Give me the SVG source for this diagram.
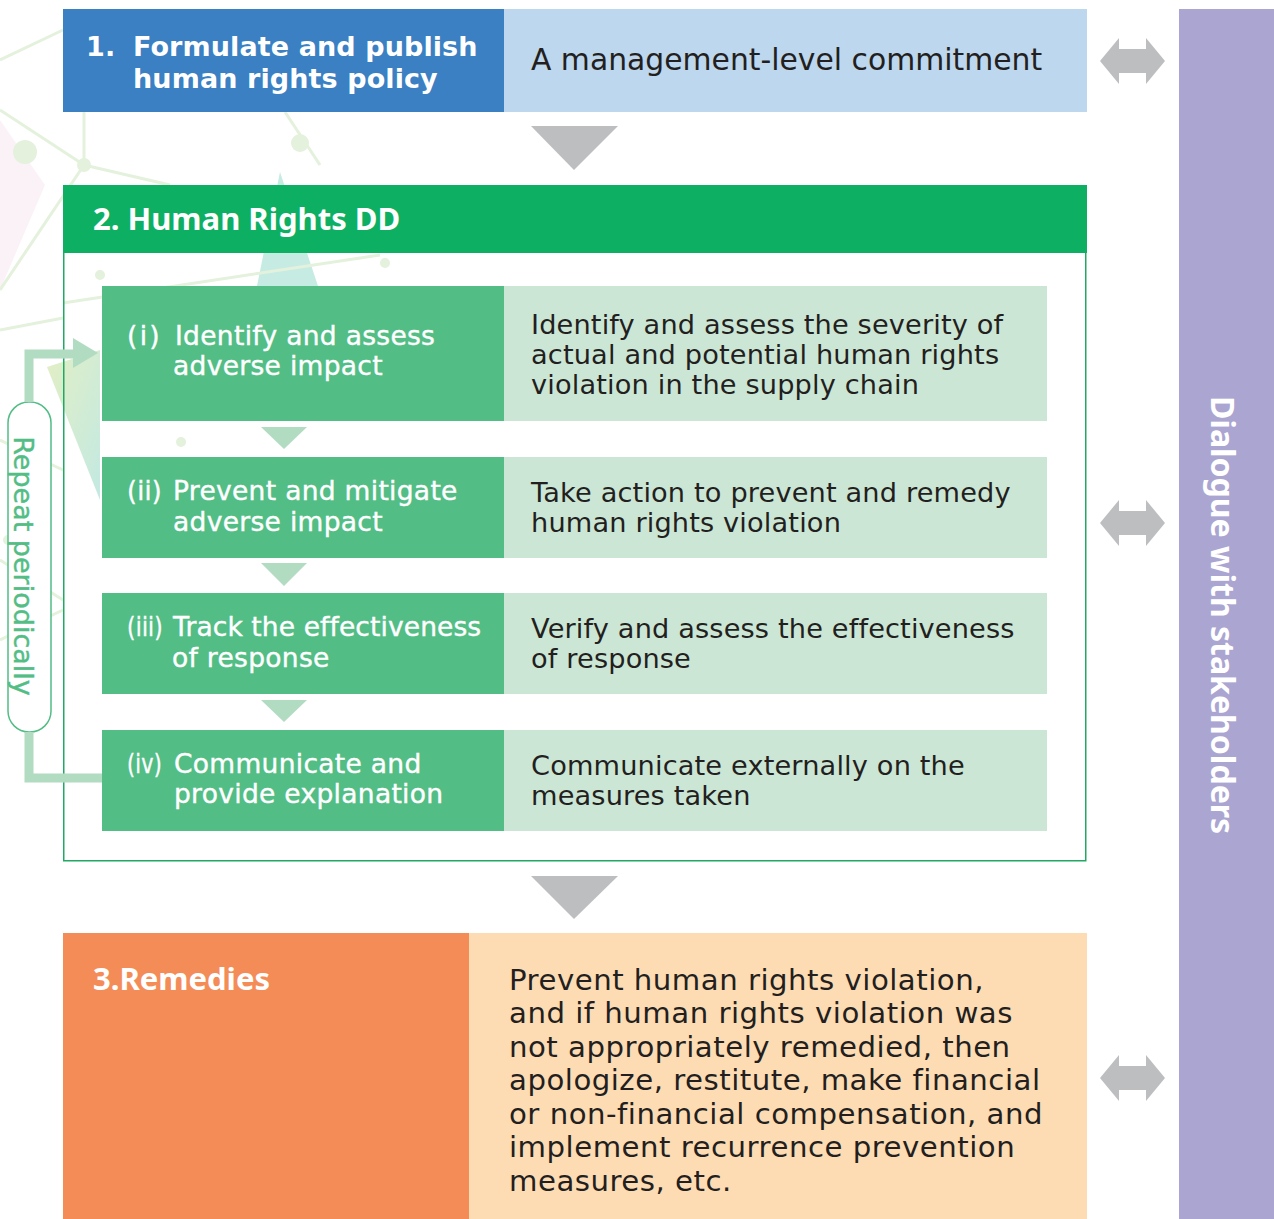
<svg xmlns="http://www.w3.org/2000/svg" width="1274" height="1219" viewBox="0 0 1274 1219">
<style>
  text { font-family: "DejaVu Sans", "Noto Sans", sans-serif; }
  .hb { font-family: "Noto Sans", "Open Sans", sans-serif; font-weight: 700; fill: #ffffff; }
  .h1 { font-family: "DejaVu Sans", sans-serif; font-weight: 700; fill: #ffffff; font-size: 27px; letter-spacing: 0.1px; }
  .lbl { fill: #ffffff; font-size: 26.5px; stroke: #ffffff; stroke-width: 0.4; letter-spacing: 0.3px; }
  .d { fill: #231f20; }
  .tr { font-size: 27.2px; letter-spacing: 0.15px; }
  .bg { stroke: #e4f1dc; stroke-width: 3; fill: none; }
  .dot { fill: #e4f1dc; }
  .tri { fill: #bcbec0; }
  .stri { fill: #b2dcc1; }
  .dbl { fill: #bcbec0; }
</style>
<defs>
  <linearGradient id="gtri" x1="0" y1="0" x2="1" y2="1">
    <stop offset="0" stop-color="#e2efc4"/>
    <stop offset="1" stop-color="#c3e9e2"/>
  </linearGradient>
  <path id="dblArrow" d="M0 0 L19 -23 L19 -12 L46 -12 L46 -23 L65 0 L46 23 L46 12 L19 12 L19 23 Z"/>
</defs>
<rect width="1274" height="1219" fill="#ffffff"/>

<g id="background">
  <polygon points="0,120 45,185 0,290" fill="#fbf2f7"/>
  <polygon points="280,172 257,286 318,286" fill="#c5ebe3"/>
  <polygon points="47,367 100,350 100,500" fill="url(#gtri)"/>
  <line class="bg" x1="0" y1="60" x2="63" y2="30"/>
  <line class="bg" x1="0" y1="110" x2="84" y2="165"/>
  <line class="bg" x1="84" y1="112" x2="84" y2="165"/>
  <line class="bg" x1="84" y1="165" x2="170" y2="185"/>
  <line class="bg" x1="84" y1="165" x2="0" y2="290"/>
  <line class="bg" x1="285" y1="112" x2="320" y2="165"/>
  <line class="bg" x1="0" y1="330" x2="63" y2="318"/>
  <line class="bg" x1="63" y1="303" x2="380" y2="255"/>
  <line class="bg" x1="0" y1="440" x2="63" y2="470"/>
  <line class="bg" x1="0" y1="560" x2="63" y2="600"/>
  <line class="bg" x1="0" y1="640" x2="63" y2="610"/>
  <circle class="dot" cx="25" cy="152" r="12"/>
  <circle class="dot" cx="84" cy="165" r="7"/>
  <circle class="dot" cx="300" cy="143" r="9"/>
  <circle class="dot" cx="100" cy="275" r="5"/>
  <circle class="dot" cx="385" cy="263" r="5"/>
  <circle class="dot" cx="181" cy="442" r="5"/>
  <circle class="dot" cx="8" cy="540" r="5"/>
</g>

<g id="stakeholders">
  <rect x="1179" y="9" width="95" height="1210" fill="#aba5d1"/>
  <text class="hb" font-size="32" transform="translate(1211,615) rotate(90)" text-anchor="middle">Dialogue with stakeholders</text>
</g>

<g id="step1">
  <rect x="63" y="9" width="441" height="103" fill="#3a80c3"/>
  <rect x="504" y="9" width="583" height="103" fill="#bdd7ee"/>
  <text class="h1"><tspan x="86" y="56">1.</tspan><tspan x="133" y="56">Formulate and publish</tspan><tspan x="133" y="88">human rights policy</tspan></text>
  <text class="d" font-size="29.8" x="531" y="70">A management-level commitment</text>
</g>

<g id="step2">
  <rect x="63.75" y="185.75" width="1022" height="675" fill="none" stroke="#21a865" stroke-width="1.5"/>
  <rect x="63" y="185" width="1024" height="68" fill="#0daf63"/>
  <text class="hb" font-size="31" x="93" y="230">2. Human Rights DD</text>
</g>

<g id="step2-i">
  <rect x="102" y="286" width="402" height="135" fill="#52bd85"/>
  <rect x="504" y="286" width="543" height="135" fill="#cce6d5"/>
  <text class="lbl"><tspan x="127" y="345" textLength="33" lengthAdjust="spacing">(i)</tspan><tspan x="175" y="345">Identify and assess</tspan><tspan x="173" y="375">adverse impact</tspan></text>
  <text class="d tr"><tspan x="531" y="334">Identify and assess the severity of</tspan><tspan x="531" y="364">actual and potential human rights</tspan><tspan x="531" y="394">violation in the supply chain</tspan></text>
</g>

<g id="step2-ii">
  <rect x="102" y="457" width="402" height="101" fill="#52bd85"/>
  <rect x="504" y="457" width="543" height="101" fill="#cce6d5"/>
  <text class="lbl"><tspan x="127" y="500" textLength="35" lengthAdjust="spacingAndGlyphs">(ii)</tspan><tspan x="173" y="500">Prevent and mitigate</tspan><tspan x="173" y="531">adverse impact</tspan></text>
  <text class="d tr"><tspan x="531" y="502">Take action to prevent and remedy</tspan><tspan x="531" y="532">human rights violation</tspan></text>
</g>

<g id="step2-iii">
  <rect x="102" y="593" width="402" height="101" fill="#52bd85"/>
  <rect x="504" y="593" width="543" height="101" fill="#cce6d5"/>
  <text class="lbl"><tspan x="127" y="636" textLength="36" lengthAdjust="spacingAndGlyphs">(iii)</tspan><tspan x="173" y="636" letter-spacing="0.1">Track the effectiveness</tspan><tspan x="172" y="667">of response</tspan></text>
  <text class="d tr"><tspan x="531" y="638">Verify and assess the effectiveness</tspan><tspan x="531" y="668">of response</tspan></text>
</g>

<g id="step2-iv">
  <rect x="102" y="730" width="402" height="101" fill="#52bd85"/>
  <rect x="504" y="730" width="543" height="101" fill="#cce6d5"/>
  <text class="lbl"><tspan x="127" y="773" textLength="35" lengthAdjust="spacingAndGlyphs">(iv)</tspan><tspan x="174" y="773">Communicate and</tspan><tspan x="174" y="803">provide explanation</tspan></text>
  <text class="d tr"><tspan x="531" y="775">Communicate externally on the</tspan><tspan x="531" y="805">measures taken</tspan></text>
</g>

<g id="step3">
  <rect x="63" y="933" width="406" height="286" fill="#f48c58"/>
  <rect x="469" y="933" width="618" height="286" fill="#fddcb4"/>
  <text class="hb" font-size="31" x="93" y="990">3.Remedies</text>
  <text class="d" font-size="29.2" letter-spacing="0.5"><tspan x="509" y="990">Prevent human rights violation,</tspan><tspan x="509" y="1023">and if human rights violation was</tspan><tspan x="509" y="1057">not appropriately remedied, then</tspan><tspan x="509" y="1090">apologize, restitute, make financial</tspan><tspan x="509" y="1124">or non-financial compensation, and</tspan><tspan x="509" y="1157">implement recurrence prevention</tspan><tspan x="509" y="1191">measures, etc.</tspan></text>
</g>

<g id="repeat">
  <rect x="8" y="402" width="43" height="330" rx="21" fill="#ffffff" stroke="#52bd85" stroke-width="1.5"/>
  <text font-size="27" fill="#52bd85" stroke="#52bd85" stroke-width="0.4" transform="translate(14,566) rotate(90)" text-anchor="middle">Repeat periodically</text>
</g>

<g id="connectors">
  <polygon class="tri" points="531,126 618,126 574,170"/>
  <polygon class="tri" points="531,876 618,876 574,919"/>
  <polygon class="stri" points="261,427 307,427 284,449"/>
  <polygon class="stri" points="261,563 307,563 284,586"/>
  <polygon class="stri" points="261,700 307,700 284,722"/>
  <polyline points="102,778 29,778 29,732" fill="none" stroke="#b2dcc1" stroke-width="9"/>
  <polyline points="29,402 29,354 75,354" fill="none" stroke="#b2dcc1" stroke-width="9"/>
  <polygon points="73,338 98,353 73,368" fill="#b2dcc1"/>
  <use href="#dblArrow" class="dbl" x="1100" y="61"/>
  <use href="#dblArrow" class="dbl" x="1100" y="523"/>
  <use href="#dblArrow" class="dbl" x="1100" y="1078"/>
</g>
</svg>
